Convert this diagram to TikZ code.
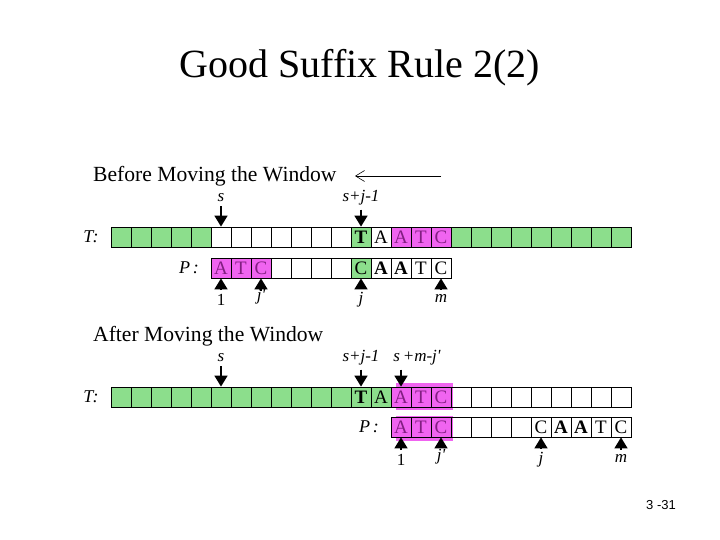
\documentclass[tikz,border=0pt]{standalone}
\usepackage{fontspec}
\setmainfont{Liberation Serif}
\newfontfamily\slidesans{Liberation Sans}
\usetikzlibrary{arrows.meta, positioning, calc}
\definecolor{wingreen}{RGB}{140,222,140}
\definecolor{sufpink}{RGB}{240,100,240}
\definecolor{sufink}{RGB}{130,30,130}
\tikzset{
    cell/.style={rectangle, draw=black, line width=0.8pt, minimum width=20pt, minimum height=20pt, inner sep=0pt, font=\fontsize{19}{20}\selectfont},
    lbl/.style={font=\fontsize{17}{18}\selectfont\itshape, inner sep=1pt},
    rowlbl/.style={font=\fontsize{18}{20}\selectfont\itshape, inner sep=0pt},
    heading/.style={font=\fontsize{21.6}{24}\selectfont, anchor=west, inner sep=0pt},
    ptr/.style={-{Triangle[length=11pt,width=13pt]}, line width=1.6pt, shorten <=3pt}
}

\begin{document}
\begin{tikzpicture}[x=1pt, y=-1pt]
  \useasboundingbox (0,0) rectangle (720,540);
  \node[font=\fontsize{40}{46}\selectfont] (title) at (360,68) {Good Suffix Rule 2(2)};

  % before moving
  \node[heading] (hbefore) at (93,176) {Before Moving the Window};
  \coordinate (wr) at (441,176);
  \coordinate (wl) at (355,176);
  \draw[-{Straight Barb[length=9pt,width=11pt]}, line width=0.6pt] (wr) -- (wl);

  \node[rowlbl] (tbl) at (91,237) {T:};
  \foreach \i in {0,...,4}
    \node[cell, fill=wingreen] (tb\i) at ({121+20*\i},237) {};
  \foreach \i in {17,...,25}
    \node[cell, fill=wingreen] (tb\i) at ({121+20*\i},237) {};
  \foreach \i in {5,...,11}
    \node[cell] (tb\i) at ({121+20*\i},237) {};
  \foreach \i/\f/\k/\c in {12/wingreen/black/\textbf{T}, 13/white/black/A, 14/sufpink/sufink/A, 15/sufpink/sufink/T, 16/sufpink/sufink/C}
    \node[cell, fill=\f, text=\k] (tb\i) at ({121+20*\i},237) {\c};

  \node[rowlbl] (pbl) at (189,268) {P\,:};
  \foreach \i/\c in {5/A, 6/T, 7/C}
    \node[cell, fill=sufpink, text=sufink] (pb\i) at ({121+20*\i},268) {\c};
  \foreach \i in {8,...,11}
    \node[cell] (pb\i) at ({121+20*\i},268) {};
  \node[cell, fill=wingreen] (pb12) at (361,268) {C};
  \foreach \i/\c in {13/\textbf{A}, 14/\textbf{A}, 15/T, 16/C}
    \node[cell] (pb\i) at ({121+20*\i},268) {\c};

  \node[lbl] (sb) at (221,198) {s};
  \node[lbl] (sjb) at (361,198) {s+j-1};
  \node[lbl] (oneb) at (221,300) {\upshape 1};
  \node[lbl] (jpb) at (261,297) {j\textquotesingle};
  \node[lbl] (jb) at (361,300) {j};
  \node[lbl] (mb) at (441,298) {m};
  \foreach \a/\b in {sb/tb5, sjb/tb12, oneb/pb5, jpb/pb7, jb/pb12, mb/pb16}
    \draw[ptr] (\a) -- (\b);

  % after moving
  \node[heading] (hafter) at (93,336) {After Moving the Window};

  \fill[sufpink] (396,383) rectangle (453,410);
  \fill[sufpink] (396,416) rectangle (453,441);

  \node[rowlbl] (tal) at (91,397) {T:};
  \foreach \i in {0,...,11}
    \node[cell, fill=wingreen] (ta\i) at ({121+20*\i},397) {};
  \foreach \i/\f/\k/\c in {12/wingreen/black/\textbf{T}, 13/wingreen/black/A, 14/sufpink/sufink/A, 15/sufpink/sufink/T, 16/sufpink/sufink/C}
    \node[cell, fill=\f, text=\k] (ta\i) at ({121+20*\i},397) {\c};
  \foreach \i in {17,...,25}
    \node[cell] (ta\i) at ({121+20*\i},397) {};

  \node[rowlbl] (pal) at (369,427) {P\,:};
  \foreach \i/\c in {14/A, 15/T, 16/C}
    \node[cell, fill=sufpink, text=sufink] (pa\i) at ({121+20*\i},427) {\c};
  \foreach \i in {17,...,20}
    \node[cell] (pa\i) at ({121+20*\i},427) {};
  \foreach \i/\c in {21/C, 22/\textbf{A}, 23/\textbf{A}, 24/T, 25/C}
    \node[cell] (pa\i) at ({121+20*\i},427) {\c};

  \node[lbl] (sa) at (221,358) {s};
  \node[lbl] (sja) at (361,358) {s+j-1};
  \node[lbl] (sma) at (417,358) {s\,+m-j\textquotesingle};
  \node[lbl] (onea) at (401,460) {\upshape 1};
  \node[lbl] (jpa) at (441,457) {j\textquotesingle};
  \node[lbl] (ja) at (541,460) {j};
  \node[lbl] (ma) at (621,458) {m};
  \foreach \a/\b in {sa/ta5, sja/ta12, onea/pa14, jpa/pa16, ja/pa21, ma/pa25}
    \draw[ptr] (\a) -- (\b);
  \draw[ptr] (sma.south -| ta14) -- (ta14);

  \node[font=\slidesans\fontsize{13}{14}\selectfont] (pgno) at (661,505) {3 -31};
\end{tikzpicture}
\end{document}
